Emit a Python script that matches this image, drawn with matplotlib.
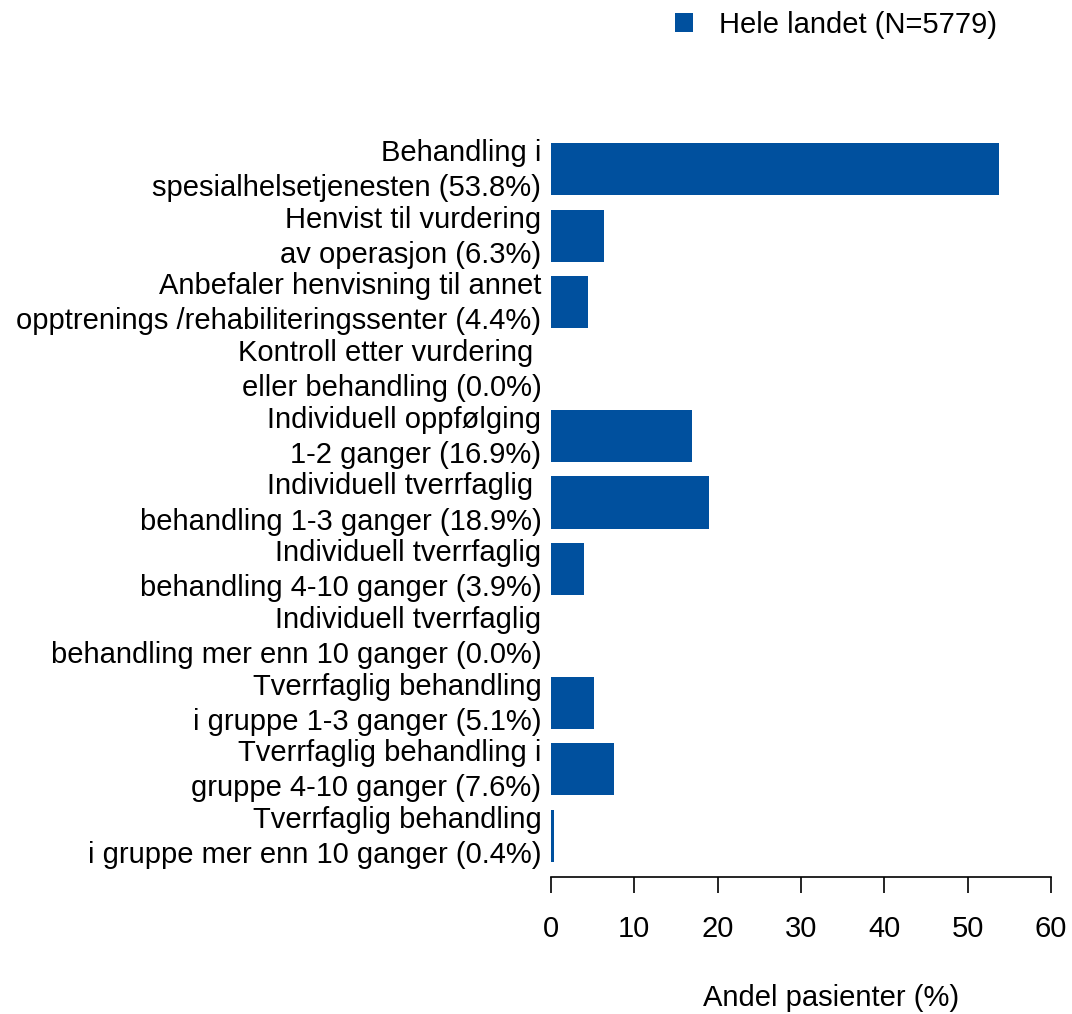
import matplotlib
matplotlib.use("Agg")
import matplotlib.pyplot as plt
from matplotlib.transforms import ScaledTranslation

plt.rcParams['font.family'] = ['Liberation Sans', 'DejaVu Sans']

categories = [
    "Behandling i\nspesialhelsetjenesten",
    "Henvist til vurdering\nav operasjon",
    "Anbefaler henvisning til annet\nopptrenings /rehabiliteringssenter",
    "Kontroll etter vurdering \neller behandling",
    "Individuell oppfølging\n1-2 ganger",
    "Individuell tverrfaglig \nbehandling 1-3 ganger",
    "Individuell tverrfaglig\nbehandling 4-10 ganger",
    "Individuell tverrfaglig\nbehandling mer enn 10 ganger",
    "Tverrfaglig behandling\ni gruppe 1-3 ganger",
    "Tverrfaglig behandling i\ngruppe 4-10 ganger",
    "Tverrfaglig behandling\ni gruppe mer enn 10 ganger",
]
values = [53.8, 6.3, 4.4, 0.0, 16.9, 18.9, 3.9, 0.0, 5.1, 7.6, 0.4]
series_name = "Hele landet (N=5779)"
x_ticks = [0, 10, 20, 30, 40, 50, 60]
x_label = "Andel pasienter (%)"

bar_color = "#00509E"
FS = 21
W, H = 1072, 1014
fig = plt.figure(figsize=(W / 100, H / 100), dpi=100)

left, right, top, bottom = 551, 1051, 130, 877
ax = fig.add_axes([left / W, 1 - bottom / H, (right - left) / W, (bottom - top) / H])

pos = list(range(len(categories)))
bars = ax.barh(pos, values, height=0.78, color=bar_color, label=series_name)

ax.set_xlim(0, 60)
step = 66.7
ax.set_ylim(10 + (bottom - 836) / step, -(169 - top) / step)

ticklabels = [f"{c} ({v:.1f}%)" for c, v in zip(categories, values)]
ax.set_yticks(pos)
ax.set_yticklabels(ticklabels, fontsize=FS, ha='right', ma='right',
                   linespacing=1.32)
ax.tick_params(axis='y', length=0, pad=7)
lift = ScaledTranslation(0, 5 / 100, fig.dpi_scale_trans)
for lab in ax.get_yticklabels():
    lab.set_transform(lab.get_transform() + lift)

ax.set_xticks(x_ticks)
ax.set_xticklabels([str(t) for t in x_ticks], fontsize=FS)
ax.tick_params(axis='x', length=11.5, width=1.2, pad=16, color='black')

for s in ['top', 'right', 'left']:
    ax.spines[s].set_visible(False)
ax.spines['bottom'].set_linewidth(1.2)
ax.spines['bottom'].set_bounds(0, 60)

fig.text(831 / W, 1 - 1006 / H, x_label, fontsize=FS,
         ha='center', va='baseline')

fig.legend(handles=[bars], labels=[series_name], loc='upper left',
           bbox_to_anchor=(675 / W, 1 - 11 / H), frameon=False, fontsize=FS,
           handlelength=0.62, handleheight=0.62, handletextpad=0.9,
           borderpad=0, borderaxespad=0)

fig.savefig("out.png", dpi=100)
